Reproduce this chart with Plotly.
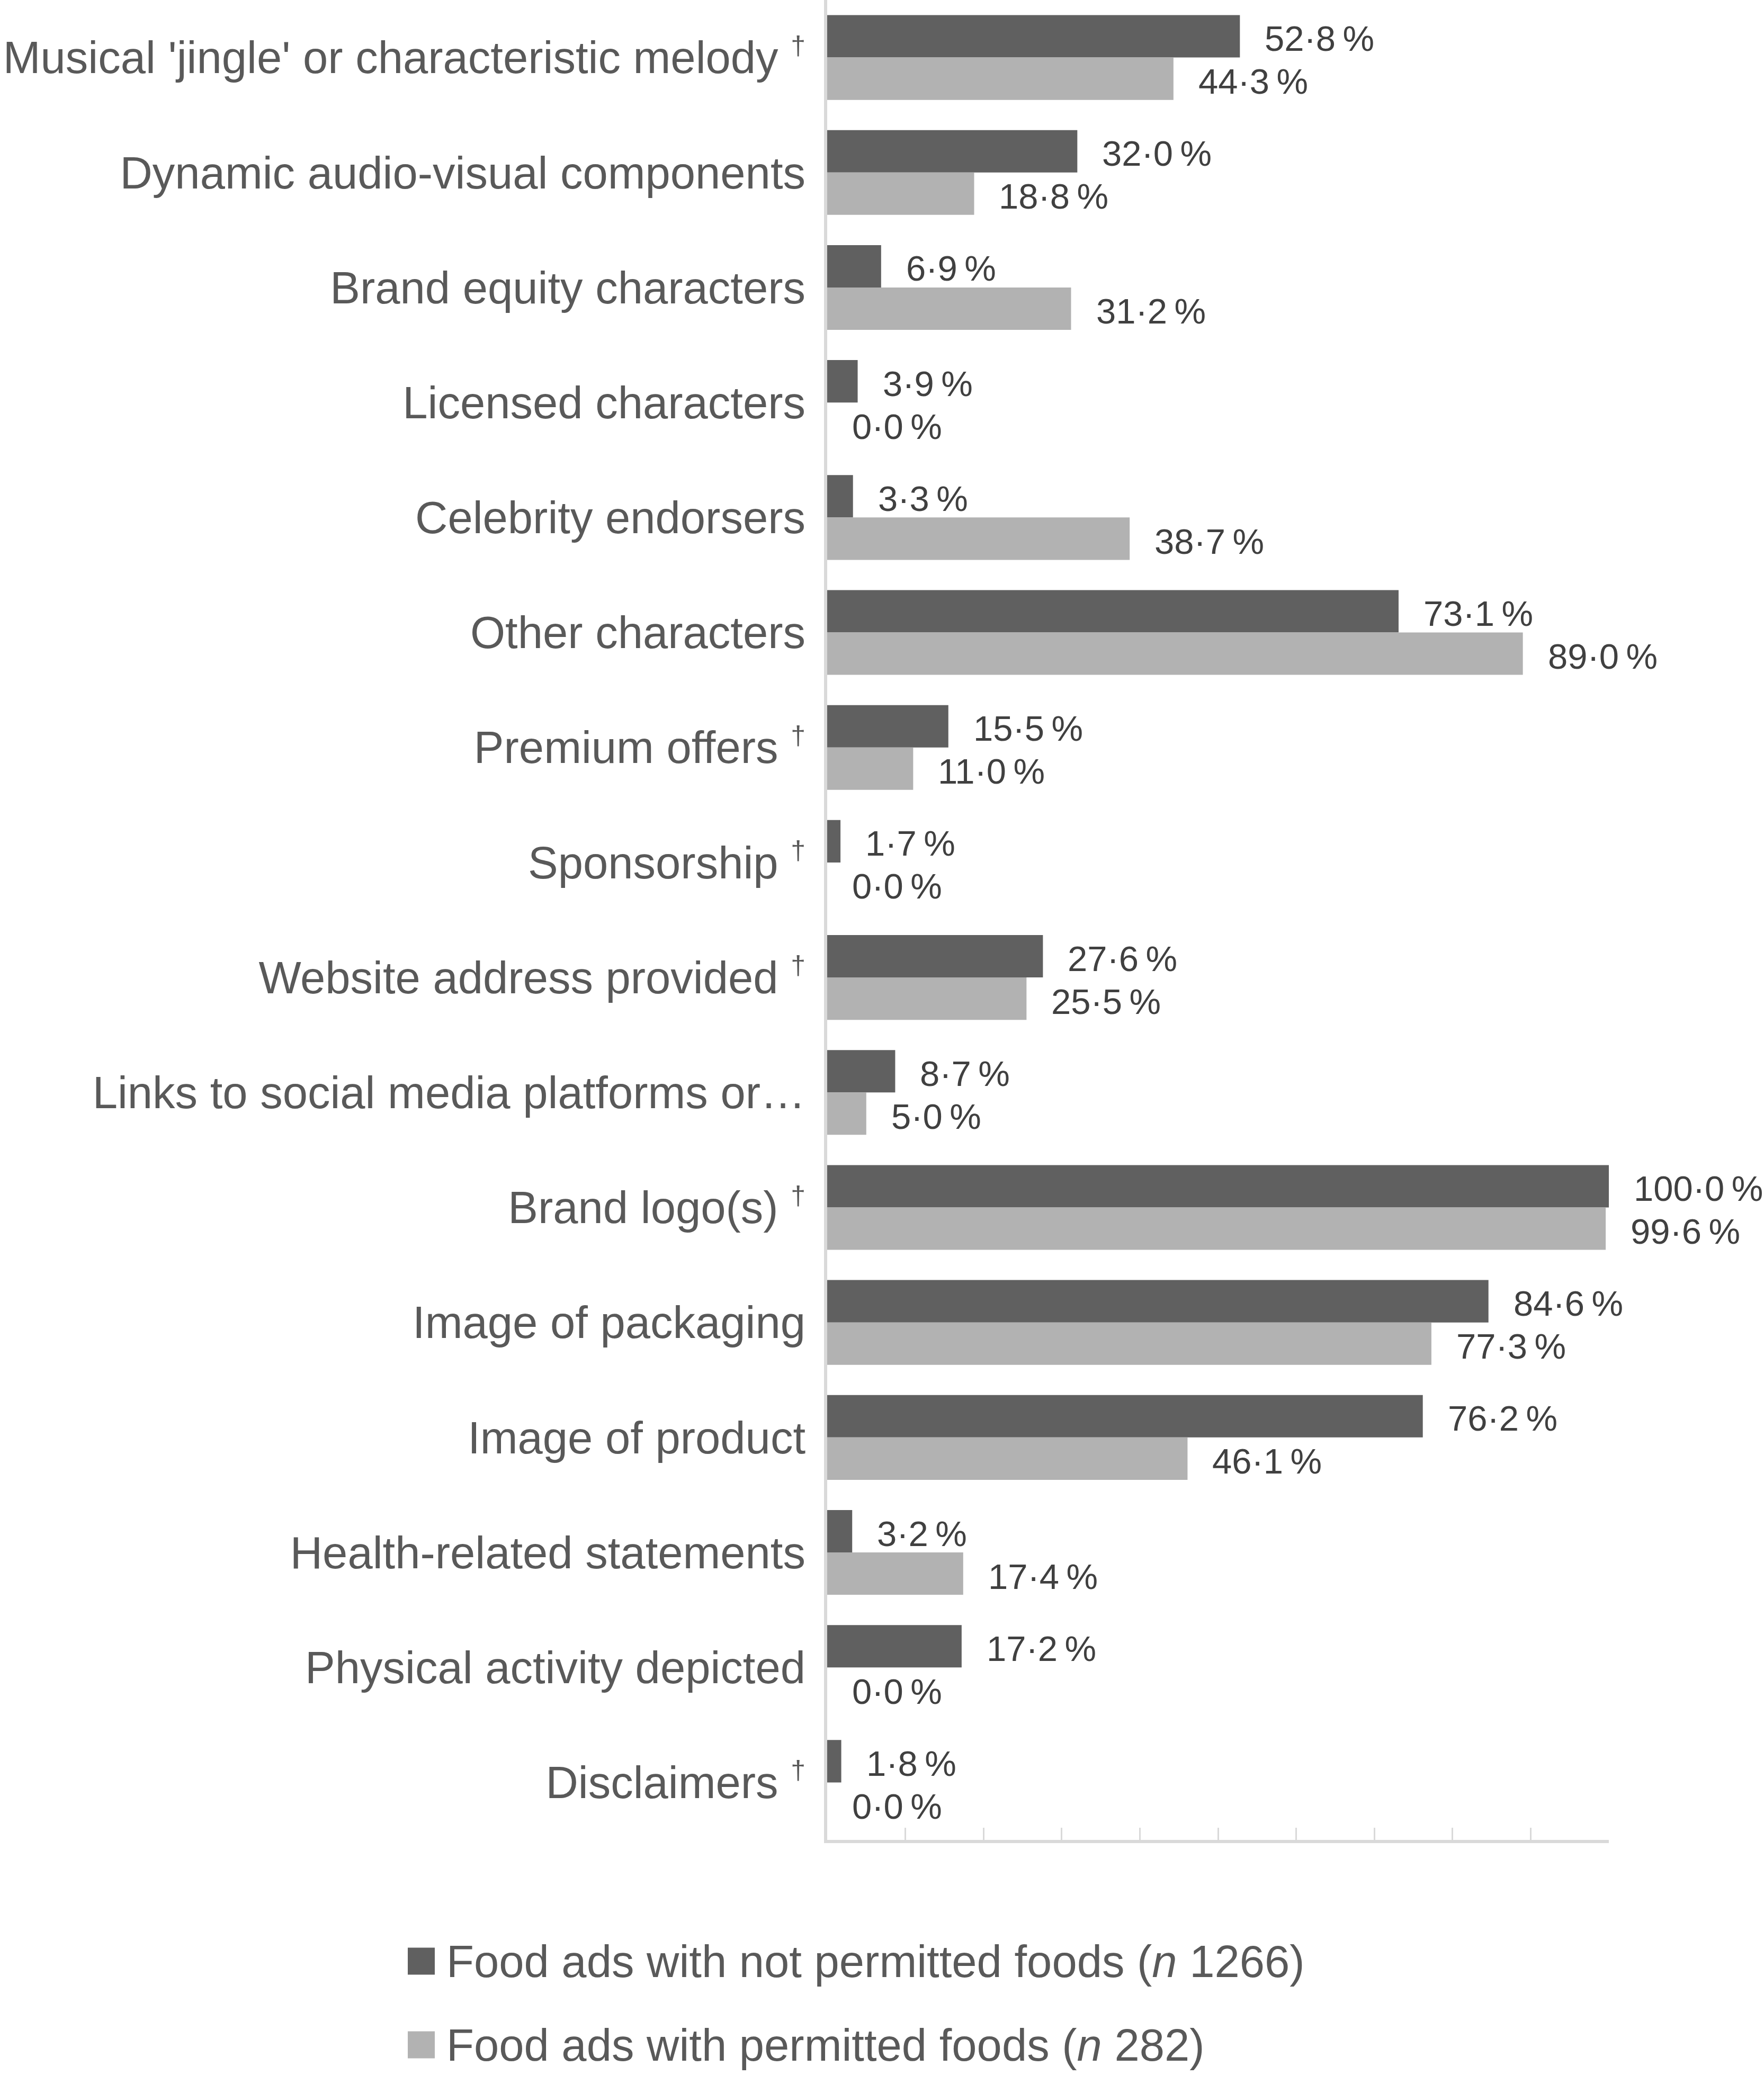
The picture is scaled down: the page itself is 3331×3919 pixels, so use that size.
import plotly.graph_objects as go

DAG = " <sup><span style='font-size:50px'>†</span></sup>"
categories = [
    "Musical 'jingle' or characteristic melody" + DAG,
    "Dynamic audio-visual components",
    "Brand equity characters",
    "Licensed characters",
    "Celebrity endorsers",
    "Other characters",
    "Premium offers" + DAG,
    "Sponsorship" + DAG,
    "Website address provided" + DAG,
    "Links to social media platforms or…",
    "Brand logo(s)" + DAG,
    "Image of packaging",
    "Image of product",
    "Health-related statements",
    "Physical activity depicted",
    "Disclaimers" + DAG,
]
not_permitted = [52.8, 32.0, 6.9, 3.9, 3.3, 73.1, 15.5, 1.7, 27.6, 8.7, 100.0, 84.6, 76.2, 3.2, 17.2, 1.8]
permitted = [44.3, 18.8, 31.2, 0.0, 38.7, 89.0, 11.0, 0.0, 25.5, 5.0, 99.6, 77.3, 46.1, 17.4, 0.0, 0.0]
series_names = ["Food ads with not permitted foods (<i>n</i> 1266)",
                "Food ads with permitted foods (<i>n</i> 282)"]
colors = ["#606060", "#b2b2b2"]

W, H = 3331, 3919
ML, MR, MT, MB = 1562, 293, 0, 444
PW = W - ML - MR
PH = H - MT - MB
FONT = "Liberation Sans, Arial, sans-serif"

def fmt(v):
    return f"{v:.1f}".replace(".", "·") + "\u2009%"

fig = go.Figure()
for name, vals, col in zip(series_names, [not_permitted, permitted], colors):
    fig.add_trace(go.Bar(
        y=categories, x=vals, name=name, orientation="h",
        marker=dict(color=col, line=dict(width=0)),
        showlegend=False, hoverinfo="skip",
    ))

annotations = []
for vals, ysh in [(not_permitted, 36), (permitted, -45)]:
    for c, v in zip(categories, vals):
        annotations.append(dict(
            x=v, y=c, xref="x", yref="y", text=fmt(v), showarrow=False,
            xanchor="left", yanchor="middle", xshift=45, yshift=ysh,
            font=dict(family=FONT, size=67, color="#404040"),
        ))

# manual legend
leg_rows_py = [3704, 3862]
sq = 51
sq_x0 = 770
txt_x = 841
shapes = []
for (name, col, py) in zip(series_names, colors, leg_rows_py):
    x0 = (sq_x0 - ML) / PW
    x1 = (sq_x0 + sq - ML) / PW
    y0 = (MT + PH - (py + sq / 2)) / PH
    y1 = (MT + PH - (py - sq / 2)) / PH
    shapes.append(dict(type="rect", xref="paper", yref="paper", x0=x0, x1=x1, y0=y0, y1=y1,
                       fillcolor=col, line=dict(width=0)))
    annotations.append(dict(
        x=(txt_x - ML) / PW, y=(MT + PH - py) / PH, xref="paper", yref="paper",
        text=name, showarrow=False, xanchor="left", yanchor="middle",
        font=dict(family=FONT, size=85, color="#595959"),
    ))

fig.update_layout(
    width=W, height=H,
    margin=dict(l=ML, r=MR, t=MT, b=MB, pad=0, autoexpand=False),
    paper_bgcolor="white", plot_bgcolor="white",
    barmode="group", bargap=0.263, bargroupgap=0,
    font=dict(family=FONT, size=85, color="#595959"),
    annotations=annotations, shapes=shapes,
    showlegend=False,
)
fig.update_yaxes(
    type="category", autorange="reversed", showgrid=False, zeroline=False,
    showline=True, linecolor="#d9d9d9", linewidth=6, ticks="",
    tickfont=dict(family=FONT, size=85, color="#595959"),
    ticklabelstandoff=18, automargin=False,
)
fig.update_xaxes(
    range=[0, 100], showgrid=False, zeroline=False, showline=True,
    linecolor="#d9d9d9", linewidth=6, ticks="inside", ticklen=23, tickwidth=3,
    tickcolor="#d9d9d9", dtick=10, tick0=0, showticklabels=False, automargin=False,
)
fig.write_html("out.html")
